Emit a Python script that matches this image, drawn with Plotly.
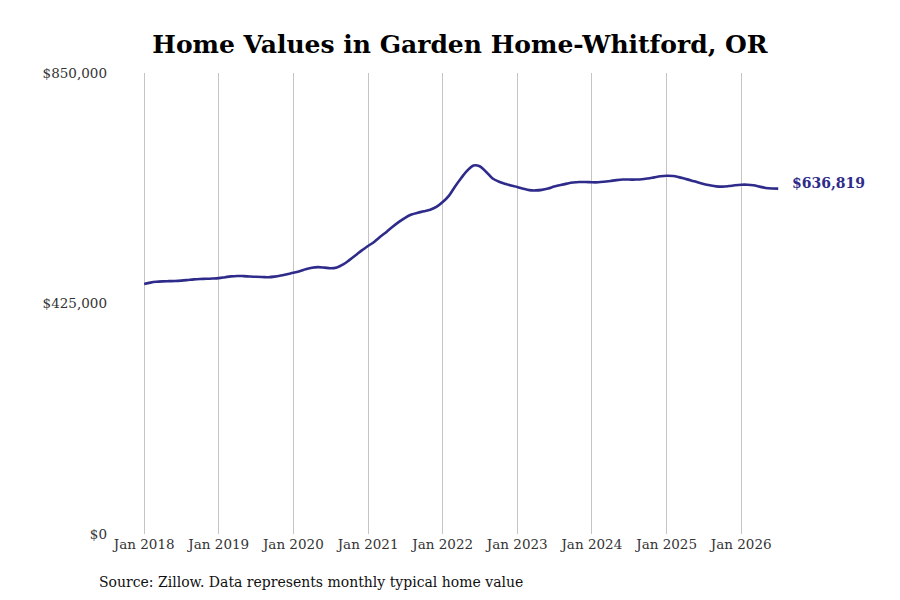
import pandas as pd
import plotly.graph_objects as go

# monthly typical home value, Jan 2018 - Jul 2026
months = pd.date_range('2018-01-01', '2026-07-01', freq='MS')

values = [
    # 2018
    461000, 463500, 465000, 465800, 466200, 466500, 467200, 468300, 469500, 470200, 470500, 471000,
    # 2019
    471800, 473500, 475000, 475800, 475500, 474800, 474200, 473800, 473500, 474500, 476500, 479000,
    # 2020
    481500, 484500, 488000, 491000, 492000, 491200, 490000, 491500, 497000, 505000, 514000, 523000,
    # 2021
    531000, 539000, 548000, 557000, 566500, 575500, 583000, 589000, 592500, 595000, 598000, 603000,
    # 2022
    612000, 624000, 640000, 656000, 670000, 679500, 678000, 668000, 656000, 650000, 646000, 642500,
    # 2023
    640000, 636500, 634000, 633500, 634500, 637000, 640500, 643500, 646000, 648000, 649000, 649000,
    # 2024
    648500, 648500, 649500, 651000, 652500, 653500, 653500, 653500, 654000, 655500, 657500, 659500,
    # 2025
    660500, 660000, 658000, 655000, 652000, 648500, 645500, 643000, 641000, 640500, 641500, 643000,
    # 2026
    644000, 644000, 643000, 640500, 638000, 637000, 636819,
]

tick_dates = pd.date_range('2018-01-01', '2026-01-01', freq='YS')
tick_text = [d.strftime('Jan %Y') for d in tick_dates]
y_ticks = [0, 425000, 850000]
y_text = ['$0', '$425,000', '$850,000']

line_color = '#2E2B8A'
font = 'DejaVu Serif'

fig = go.Figure()
fig.add_trace(go.Scatter(x=months, y=values, mode='lines',
                         line=dict(color=line_color, width=2.6, shape='spline'),
                         hoverinfo='skip', showlegend=False))

# last value label
fig.add_annotation(x=months[-1], y=values[-1], text='<b>$' + f'{values[-1]:,}' + '</b>',
                   showarrow=False, xanchor='left', xshift=12, yshift=6,
                   font=dict(family=font, size=14, color=line_color))

fig.add_annotation(text='Source: Zillow. Data represents monthly typical home value',
                   xref='paper', yref='paper', x=-0.016, y=-0.104, xanchor='left', yanchor='middle',
                   showarrow=False, font=dict(family=font, size=14, color='#111111'))

# page body has an 8px margin, so the figure is a bit smaller than the window
fig.update_layout(
    width=892, height=592,
    paper_bgcolor='white', plot_bgcolor='white',
    margin=dict(l=100, r=103, t=65, b=66),
    title=dict(text='<b>Home Values in Garden Home-Whitford, OR</b>', x=0.5067, xref='container',
               xanchor='center', y=0.939, yanchor='middle',
               font=dict(family=font, size=25, color='black')),
    font=dict(family=font, size=13, color='#333333'),
)
fig.update_xaxes(range=['2017-07-08', '2026-10-01'], tickvals=tick_dates, ticktext=tick_text,
                 showgrid=True, gridcolor='#c4c4c4', gridwidth=1, zeroline=False,
                 showline=False, ticks='', tickfont=dict(family=font, size=13.5, color='#333333'))
fig.update_yaxes(range=[0, 850000], tickvals=y_ticks, ticktext=y_text, showgrid=False,
                 zeroline=False, showline=False, ticks='',
                 tickfont=dict(family=font, size=13.5, color='#333333'))

fig.write_html('out.html')
